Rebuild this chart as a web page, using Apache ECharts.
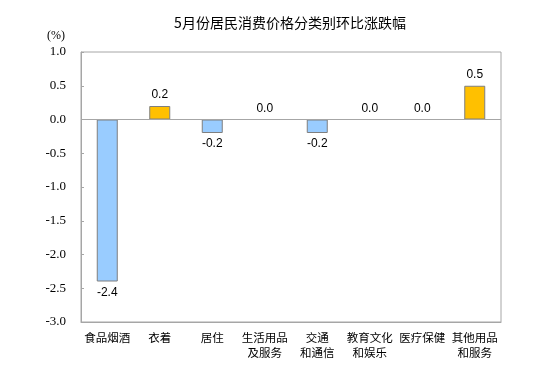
<!DOCTYPE html>
<html><head><meta charset="utf-8">
<script src="https://cdn.jsdelivr.net/npm/echarts@6/dist/echarts.min.js"></script>
<style>html,body{margin:0;padding:0;background:#fff}#c{width:551px;height:376px}</style>
</head><body><div id="c"></div>
<script>
const categories = ['食品烟酒','衣着','居住','生活用品\n及服务','交通\n和通信','教育文化\n和娱乐','医疗保健','其他用品\n和服务'];
const values = [-2.4, 0.2, -0.2, 0.0, -0.2, 0.0, 0.0, 0.5];
const yTicks = {min: -3, max: 1, interval: 0.5};
const title = '5月份居民消费价格分类别环比涨跌幅';

const serif = 'Liberation Serif';
const chart = echarts.init(document.getElementById('c'), null, {renderer: 'canvas'});
const data = values.map(v => ({
  value: v,
  itemStyle: {color: v > 0 ? '#FFC000' : '#99CCFF', borderWidth: v === 0 ? 0 : 1, opacity: v === 0 ? 0 : 1},
  label: {position: v < 0 ? 'bottom' : 'top'}
}));
chart.setOption({
  animation: false,
  title: {text: title, left: 285, top: 11, textAlign: 'center',
    textStyle: {fontSize: 14, fontWeight: 'normal', color: '#000', fontFamily: 'Noto Sans CJK SC'}},
  grid: {left: 81, right: 50, top: 52, bottom: 54, show: true, borderColor: '#a6a6a6', borderWidth: 1, backgroundColor: 'transparent'},
  xAxis: {type: 'category', data: categories,
    axisLine: {onZero: false, lineStyle: {color: '#a6a6a6'}},
    axisTick: {show: false},
    axisLabel: {interval: 0, color: '#000', fontSize: 11.5, lineHeight: 15, margin: 8,
      fontFamily: 'Noto Sans CJK SC'}},
  yAxis: {type: 'value', min: yTicks.min, max: yTicks.max, interval: yTicks.interval,
    name: '(%)', nameLocation: 'end', nameGap: 10,
    nameTextStyle: {color: '#000', fontSize: 12, fontFamily: serif, align: 'right', padding: [0, 16, 0, 0]},
    axisLine: {show: true, lineStyle: {color: '#a6a6a6'}},
    axisTick: {show: true, inside: true, length: 3, lineStyle: {color: '#a6a6a6'}},
    splitLine: {show: false},
    axisLabel: {color: '#000', fontSize: 13, margin: 15, fontFamily: serif,
      formatter: v => v.toFixed(1)}},
  series: [{type: 'bar', data: data, barWidth: '40%',
    itemStyle: {borderColor: '#7f7f7f', borderWidth: 1},
    label: {show: true, color: '#000', fontSize: 12, distance: 5, opacity: 1,
      fontFamily: 'Liberation Sans',
      formatter: p => p.value.toFixed(1)},
    markLine: {silent: true, symbol: 'none', label: {show: false},
      lineStyle: {color: '#a6a6a6', type: 'solid', width: 1},
      data: [{yAxis: 0}]}
  }]
});
</script></body></html>
